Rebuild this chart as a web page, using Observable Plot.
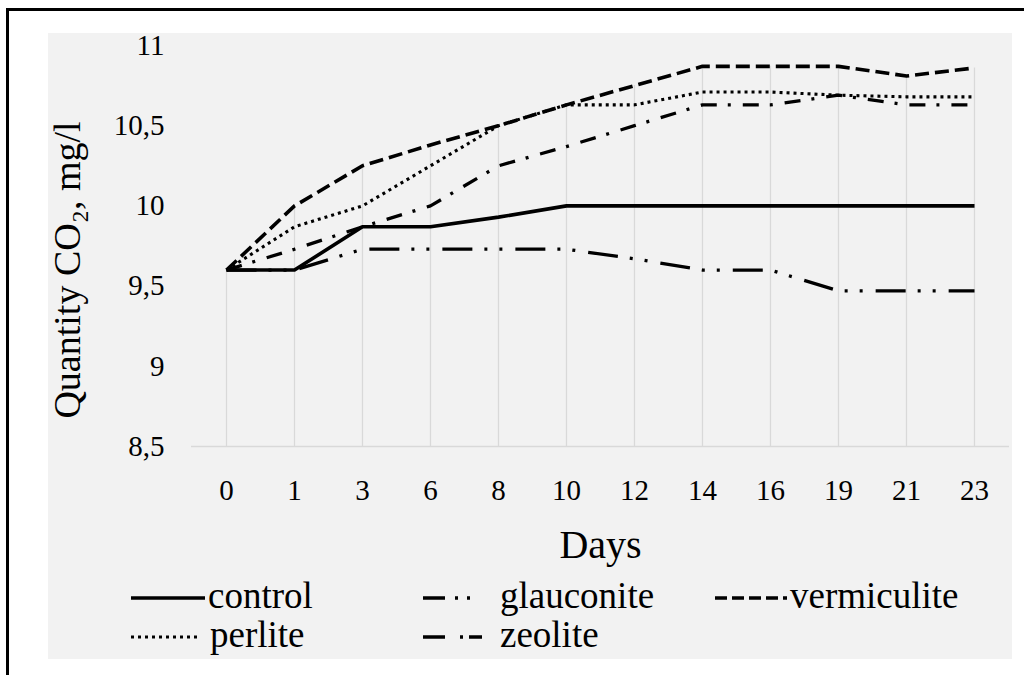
<!DOCTYPE html>
<html><head><meta charset="utf-8">
<script src="https://cdn.jsdelivr.net/npm/d3@7"></script>
<script src="https://cdn.jsdelivr.net/npm/@observablehq/plot@0.6"></script>
<style>
body{margin:0;background:#fff;width:1024px;height:675px;overflow:hidden;position:relative;color:#000;}
#frame{position:absolute;left:6px;top:8px;width:1100px;height:800px;border-top:3px solid #000;border-left:3px solid #000;}
#panel{position:absolute;left:48px;top:33px;width:964px;height:626px;background:#f2f2f2;}
#chart{position:absolute;left:0;top:0;}
#legend{position:absolute;left:0;top:0;width:1024px;height:675px;}
.lt{position:absolute;font-size:37px;line-height:40px;white-space:nowrap;font-family:'Liberation Serif',serif;}
.ls{position:absolute;overflow:visible;}
</style></head><body>
<div id="frame"></div>
<div id="panel"></div>
<div id="chart"></div>
<div id="legend"></div>
<script>
const days = ["0","1","3","6","8","10","12","14","16","19","21","23"];
const control     = [9.6, 9.6, 9.87, 9.87, 9.93, 10.0, 10.0, 10.0, 10.0, 10.0, 10.0, 10.0];
const glauconite  = [9.6, 9.6, 9.73, 9.73, 9.73, 9.73, 9.67, 9.6, 9.6, 9.47, 9.47, 9.47];
const vermiculite = [9.6, 10.0, 10.25, 10.38, 10.5, 10.63, 10.75, 10.87, 10.87, 10.87, 10.81, 10.86];
const perlite     = [9.6, 9.87, 10.0, 10.25, 10.5, 10.63, 10.63, 10.71, 10.71, 10.69, 10.68, 10.68];
const zeolite     = [9.6, 9.73, 9.87, 10.0, 10.25, 10.37, 10.5, 10.63, 10.63, 10.69, 10.63, 10.63];
const yTicks = [8.5, 9, 9.5, 10, 10.5, 11];
const seriesNames = ["control", "glauconite", "vermiculite", "perlite", "zeolite"];
const seriesValues = [control, glauconite, vermiculite, perlite, zeolite];
const dashes = [null, "30,12,3,12,3,13", "14,6", "3,4", "16,11,3,12"];
const widths = [3.6, 3.3, 3.6, 3.1, 3.3];

const serif = "'Liberation Serif', 'Times New Roman', serif";
const tidy = seriesValues.map(arr => days.map((d, i) => ({day: d, value: arr[i]})));
const drop = days.map((d, i) => ({day: d, base: yTicks[0], top: Math.max(...seriesValues.map(a => a[i]))}));
const fmt = d => String(d).replace(".", ",");

const lineMarks = tidy.map((data, k) => Plot.line(data, {
  x: "day", y: "value", stroke: "#000", strokeWidth: widths[k],
  strokeDasharray: dashes[k] || undefined, strokeLinejoin: "round", strokeLinecap: "butt"
}));

const chart = Plot.plot({
  width: 1024, height: 575,
  marginLeft: 191, marginRight: 15, marginTop: 45, marginBottom: 129,
  style: {background: "transparent", fontFamily: serif, color: "#000", overflow: "visible"},
  x: {type: "point", domain: days, padding: 0.5},
  y: {domain: [8.5, 11]},
  marks: [
    Plot.ruleX(drop, {x: "day", y1: "base", y2: "top", stroke: "#d9d9d9", strokeWidth: 1.3}),
    Plot.ruleY([yTicks[0]], {stroke: "#d9d9d9", strokeWidth: 1.5}),
    Plot.axisX({tickSize: 0, tickPadding: 33, fontSize: 29, label: null}),
    Plot.axisY({ticks: yTicks, tickFormat: fmt, tickSize: 0, tickPadding: 27, fontSize: 29, label: null}),
    ...lineMarks,
    Plot.text(["Days"], {frameAnchor: "bottom", dy: 111, fontSize: 40, fill: "#000"}),
    Plot.text(["Quantity CO₂, mg/l"], {frameAnchor: "left", textAnchor: "middle", dx: -124, dy: 24, rotate: -90, fontSize: 38, fill: "#000"})
  ]
});
document.getElementById("chart").appendChild(chart);

// legend
const legendPos = [
  {x1: 131, x2: 205, y: 598, tx: 208},
  {x1: 423, x2: 475, y: 598, tx: 500},
  {x1: 715, x2: 787, y: 598, tx: 790},
  {x1: 131, x2: 198, y: 637, tx: 210},
  {x1: 423, x2: 482, y: 637, tx: 500}
];
const legendDash = [null, "22,10,3,9,3,100", "12,5", "3,4", "22,15,3,6,14,100"];
const leg = document.getElementById("legend");
seriesNames.forEach((name, k) => {
  const p = legendPos[k];
  const svg = d3.create("svg").attr("class", "ls")
    .attr("width", p.x2 - p.x1).attr("height", 10)
    .style("left", p.x1 + "px").style("top", (p.y - 5) + "px");
  svg.append("line").attr("x1", 0).attr("x2", p.x2 - p.x1).attr("y1", 5).attr("y2", 5)
    .attr("stroke", "#000").attr("stroke-width", widths[k])
    .attr("stroke-dasharray", legendDash[k]);
  leg.appendChild(svg.node());
  const t = document.createElement("div");
  t.className = "lt"; t.textContent = name;
  t.style.fontFamily = serif;
  t.style.left = p.tx + "px"; t.style.top = (p.y - 22) + "px";
  leg.appendChild(t);
});
</script>
</body></html>
